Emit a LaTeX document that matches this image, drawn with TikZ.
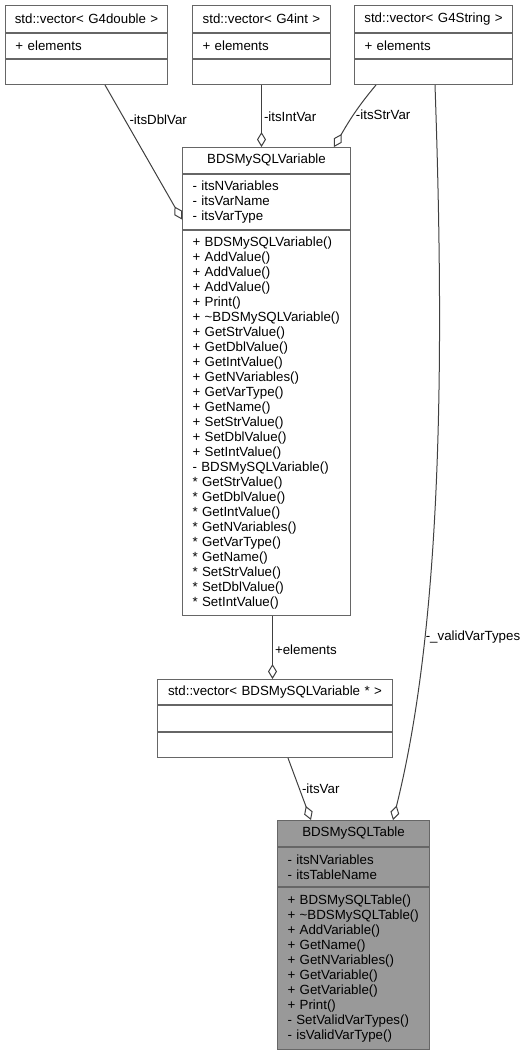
\documentclass[tikz,border=0pt]{standalone}
\usepackage{fontspec}
\setmainfont{Liberation Sans}
\usetikzlibrary{positioning,arrows.meta}

\definecolor{boxgray}{HTML}{666666}
\definecolor{edgegray}{HTML}{404040}
\definecolor{focusfill}{HTML}{999999}
\newcommand{\umlfont}{\fontsize{13.3}{15}\selectfont}

\begin{document}
\begin{tikzpicture}[x=1pt, y=-1pt, node distance=0pt,
  cpart/.style={draw=boxgray, fill=white, line width=1pt, inner ysep=0pt, font=\umlfont},
  classname/.style={cpart, inner xsep=4pt, align=center},
  members/.style={cpart, inner xsep=10pt, align=left},
  assoc/.style={draw=edgegray, line width=1pt, -{Diamond[open, length=15pt, width=9pt]}},
  role/.style={font=\umlfont, inner sep=2pt, right}]
  \useasboundingbox (0,0) rectangle (520,1053);

  %Define nodes
  \node[classname, anchor=north west, text width=154pt, minimum height=27pt] (dbl) at (5,5) {std::vector< G4double >};
  \node[members, below=of dbl, text width=142pt, minimum height=25pt] (dblattr) {+ elements};
  \node[members, below=of dblattr, text width=142pt, minimum height=25pt] (dblmeth) {};

  \node[classname, anchor=north west, text width=130pt, minimum height=27pt] (int) at (192,5) {std::vector< G4int >};
  \node[members, below=of int, text width=118pt, minimum height=25pt] (intattr) {+ elements};
  \node[members, below=of intattr, text width=118pt, minimum height=25pt] (intmeth) {};

  \node[classname, anchor=north west, text width=150pt, minimum height=27pt] (str) at (354,5) {std::vector< G4String >};
  \node[members, below=of str, text width=138pt, minimum height=25pt] (strattr) {+ elements};
  \node[members, below=of strattr, text width=138pt, minimum height=25pt] (strmeth) {};

  \node[classname, anchor=north west, text width=160pt, minimum height=26pt] (var) at (182,147) {BDSMySQLVariable};
  \node[members, below=of var, text width=148pt, minimum height=55pt] (varattr)
    {- itsNVariables\\- itsVarName\\- itsVarType};
  \node[members, below=of varattr, text width=148pt, minimum height=385pt] (varmeth)
    {+ BDSMySQLVariable()\\+ AddValue()\\+ AddValue()\\+ AddValue()\\+ Print()\\
     + \textasciitilde BDSMySQLVariable()\\+ GetStrValue()\\+ GetDblValue()\\+ GetIntValue()\\
     + GetNVariables()\\+ GetVarType()\\+ GetName()\\+ SetStrValue()\\+ SetDblValue()\\
     + SetIntValue()\\- BDSMySQLVariable()\\{}* GetStrValue()\\{}* GetDblValue()\\
     {}* GetIntValue()\\{}* GetNVariables()\\{}* GetVarType()\\{}* GetName()\\
     {}* SetStrValue()\\{}* SetDblValue()\\{}* SetIntValue()};

  \node[classname, anchor=north west, text width=227pt, minimum height=25pt] (vec) at (157,679) {std::vector< BDSMySQLVariable * >};
  \node[members, below=of vec, text width=215pt, minimum height=26pt] (vecattr) {};
  \node[members, below=of vecattr, text width=215pt, minimum height=25pt] (vecmeth) {};

  \node[classname, fill=focusfill, anchor=north west, text width=144pt, minimum height=26pt] (table) at (277,820) {BDSMySQLTable};
  \node[members, fill=focusfill, below=of table, text width=132pt, minimum height=39pt] (tableattr)
    {- itsNVariables\\- itsTableName};
  \node[members, fill=focusfill, below=of tableattr, text width=132pt, minimum height=162pt] (tablemeth)
    {+ BDSMySQLTable()\\+ \textasciitilde BDSMySQLTable()\\+ AddVariable()\\+ GetName()\\
     + GetNVariables()\\+ GetVariable()\\+ GetVariable()\\+ Print()\\
     - SetValidVarTypes()\\- isValidVarType()};

  % Connect the nodes
  \draw[assoc] ([xshift=100pt]dblmeth.south west) -- node[role, pos=0.26, xshift=2pt] (ldbl) {-itsDblVar}
    ([yshift=-17.5pt]varattr.west);
  \draw[assoc] (intmeth.south) -- node[role, pos=0.52] (lint) {-itsIntVar} (intmeth.south |- var.north);
  \draw[assoc] ([xshift=22pt]strmeth.south west) to[out=-130, in=60] node[role, pos=0.5] (lstr) {-itsStrVar}
    ([xshift=-17pt]var.north east);
  \draw[assoc] ([xshift=81pt]strmeth.south west) to[out=-88, in=76, out distance=267pt, in distance=206pt]
    node[role, pos=0.72, inner sep=1pt] (lvalid) {-\_validVarTypes} ([xshift=-37pt]table.north east);
  \draw[assoc] ([xshift=6pt]varmeth.south) -- node[role, pos=0.53] (lelem) {+elements}
    ([xshift=6pt]varmeth.south |- vec.north);
  \draw[assoc] ([xshift=131pt]vecmeth.south west) -- node[role, pos=0.5] (lvar) {-itsVar}
    ([xshift=34pt]table.north west);

\end{tikzpicture}
\end{document}
